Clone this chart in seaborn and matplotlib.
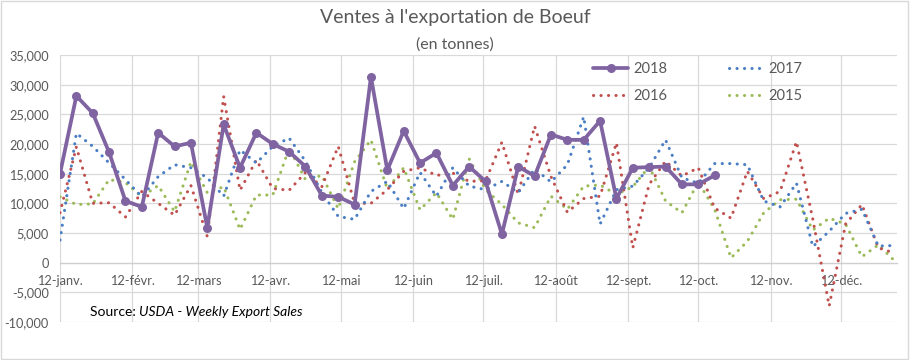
import numpy as np
import pandas as pd
import matplotlib
matplotlib.use("Agg")
import matplotlib.pyplot as plt
import seaborn as sns
from matplotlib.ticker import FuncFormatter
from matplotlib.patches import Rectangle

# ---- data (weekly, week 0 = 12 janv.) ----
v2018 = [15000, 28100, 25200, 18600, 10400, 9400, 21900, 19600, 20200, 5900,
         23300, 16000, 21900, 20000, 18700, 16200, 11300, 11100, 9800, 31300,
         15600, 22200, 16800, 18500, 13000, 16200, 13700, 4800, 16200, 14600,
         21600, 20700, 20700, 23900, 10800, 16000, 16100, 16200, 13200, 13200,
         14700]
v2017 = [3800, 21800, 19600, 16800, 14000, 11100, 14500, 16500, 16000, 14300,
         11200, 19000, 16800, 19600, 21000, 17100, 11800, 7800, 7300, 12000,
         13700, 9100, 15200, 11200, 16000, 12900, 12300, 13700, 11800, 15800,
         13600, 16500, 24600, 6500, 12300, 12900, 16000, 20700, 14300, 13400,
         16700, 16700, 16500, 10400, 9400, 13400, 2700, 5300, 8300, 9000,
         2800, 2900]
v2016 = [8400, 19500, 10000, 10100, 7700, 12000, 10000, 8000, 13000, 4400,
         28000, 12200, 17300, 12500, 12200, 15200, 12800, 19600, 10000, 10000,
         12300, 15400, 16000, 14700, 15100, 13700, 13800, 20300, 11500, 23000,
         14500, 8500, 10800, 11200, 20200, 2500, 13200, 17100, 14600, 16000,
         9200, 7500, 15400, 10800, 12000, 20400, 7300, -7300, 6500, 9800,
         2500, 1600]
v2015 = [11100, 9800, 9900, 14000, 13500, 11100, 13000, 8600, 17000, 11800,
         12800, 5600, 11400, 11400, 19300, 14000, 14700, 9100, 17000, 20700,
         12400, 16000, 8900, 11800, 7300, 17500, 12300, 9800, 6700, 5900,
         11200, 9000, 12900, 13100, 11500, 12800, 16200, 10400, 8400, 13600,
         9000, 800, 3600, 8400, 10600, 10700, 5500, 7500, 6500, 1000,
         3000, 300]

tick_days = [0, 31, 59, 90, 120, 151, 181, 212, 243, 273, 304, 334]
tick_labels = ['12-janv.', '12-févr.', '12-mars', '12-avr.', '12-mai', '12-juin',
               '12-juil.', '12-août', '12-sept.', '12-oct.', '12-nov.', '12-déc.']
y_ticks = list(range(-10000, 35001, 5000))

title = "Ventes à l'exportation de Boeuf"
subtitle = "(en tonnes)"

c2018 = '#8064A2'
c2017 = '#4A7EC4'
c2016 = '#C0504D'
c2015 = '#9BBB59'
txt = '#595959'
grid = '#d9d9d9'

sns.set_theme(style='white')
plt.rcParams['font.family'] = ['Lato', 'DejaVu Sans']

fig = plt.figure(figsize=(9.1, 3.6), dpi=100)
ax = fig.add_axes([60 / 910, 38 / 360, 837 / 910, 267 / 360])

def days(v):
    return [7 * i for i in range(len(v))]

dot = (0, (0.05, 2.4))
for name, vals, col in [('2015', v2015, c2015), ('2016', v2016, c2016), ('2017', v2017, c2017)]:
    sns.lineplot(x=days(vals), y=vals, ax=ax, color=col, lw=2.2, linestyle=dot,
                 dash_capstyle='round', label=name, zorder=3)
sns.lineplot(x=days(v2018), y=v2018, ax=ax, color=c2018, lw=2.7, marker='o',
             markersize=6.5, markeredgewidth=0, label='2018', zorder=5)

handles, labels = ax.get_legend_handles_labels()
hd = dict(zip(labels, handles))
order = ['2018', '2016', '2017', '2015']
ax.legend([hd[k] for k in order], order, ncol=2, loc='upper left',
          bbox_to_anchor=(0.637, 0.975), frameon=False, fontsize=10.5,
          labelcolor=txt, handlelength=2.4, handletextpad=0.35,
          columnspacing=4.2, labelspacing=0.9, borderaxespad=0, borderpad=0)

ax.set_xlim(0, 358)
ax.set_ylim(-10000, 35000)
ax.set_yticks(y_ticks)
ax.yaxis.set_major_formatter(FuncFormatter(lambda v, p: f'{int(v):,}'))
ax.set_xticks(tick_days)
ax.set_xticklabels(tick_labels)
ax.grid(True, color=grid, lw=0.9)
ax.set_axisbelow(True)
for s in ['top', 'right', 'left']:
    ax.spines[s].set_visible(False)
ax.spines['bottom'].set_position(('data', 0))
ax.spines['bottom'].set_color('#cfcfcf')
ax.spines['bottom'].set_linewidth(0.9)
ax.tick_params(axis='both', length=0, labelcolor=txt, labelsize=9.2)
ax.tick_params(axis='x', pad=9)
ax.tick_params(axis='y', pad=8)
ax.set_xlabel('')
ax.set_ylabel('')

fig.text(455 / 910, 1 - 18 / 360, title, ha='center', va='center', fontsize=14, color=txt)
fig.text(455 / 910, 1 - 45 / 360, subtitle, ha='center', va='center', fontsize=11.5, color=txt)

t1 = fig.text(90 / 910, 1 - 312 / 360, 'Source: ', ha='left', va='center', fontsize=10, color='black')
ax.annotate('USDA - Weekly Export Sales', xy=(1, 0), xycoords=t1, ha='left', va='bottom',
            fontsize=10, style='italic', color='black')

fig.patches.append(Rectangle((0.001, 0.002), 0.997, 0.995, transform=fig.transFigure,
                             fill=False, edgecolor='#d9d9d9', lw=1))

fig.savefig('out.png', dpi=100)
